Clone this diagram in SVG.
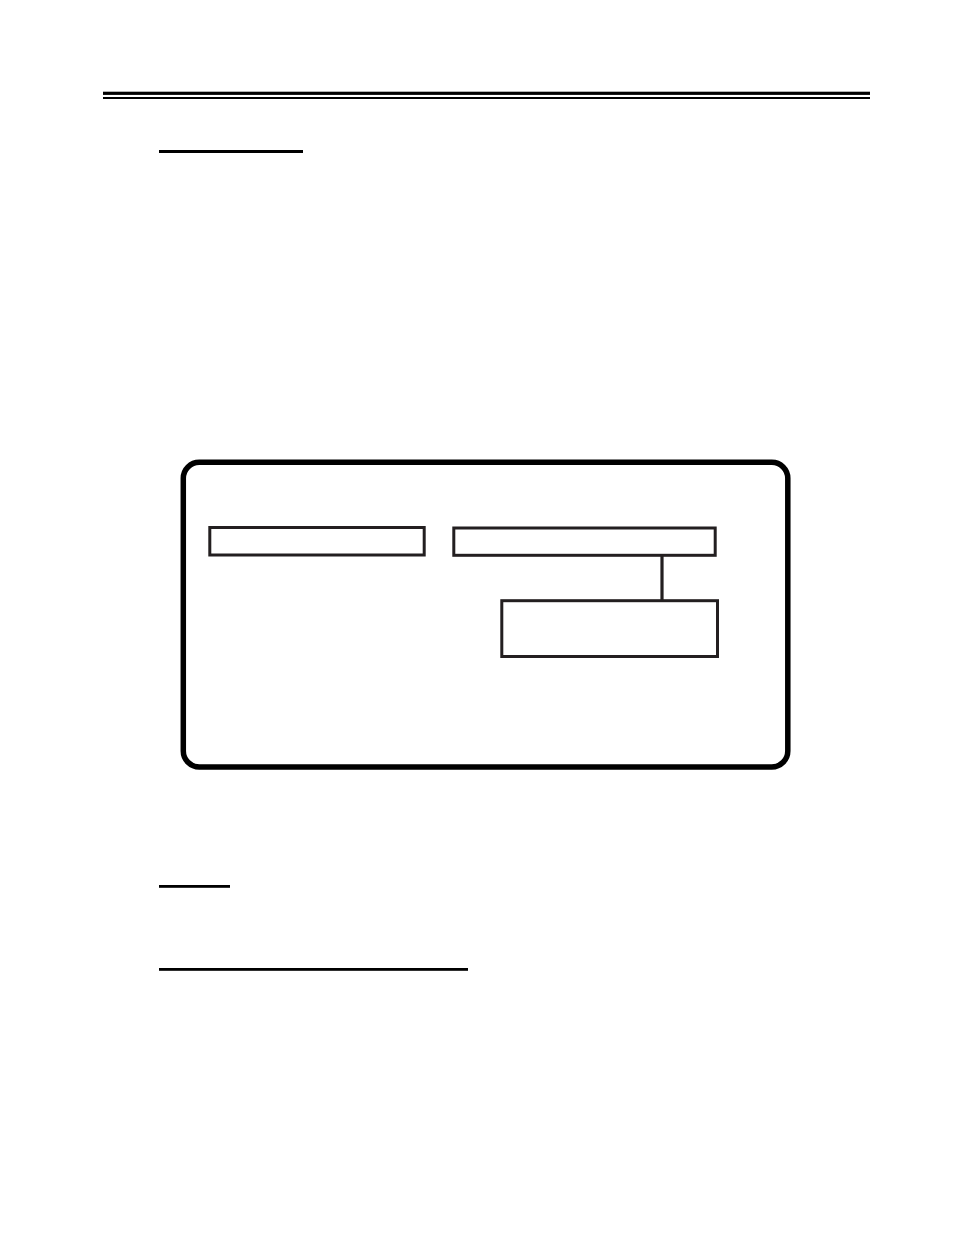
<svg xmlns="http://www.w3.org/2000/svg" width="954" height="1235" viewBox="0 0 954 1235">
<style>
.rule{fill:#000000}
.frame{fill:none;stroke:#000000;stroke-width:5.5}
.box{fill:#ffffff;stroke:#231f20;stroke-width:3}
.conn{stroke:#231f20;stroke-width:3.2;fill:none}
</style>
<rect width="954" height="1235" fill="#ffffff"/>
<g id="header-rules">
<rect class="rule" x="103" y="91.7" width="767" height="3.2"/>
<rect class="rule" x="103" y="97" width="767" height="2"/>
</g>
<g id="underlines">
<rect class="rule" x="159" y="150" width="144" height="3"/>
<rect class="rule" x="159" y="885" width="71" height="2.8"/>
<rect class="rule" x="159" y="968" width="309" height="2.8"/>
</g>
<g id="frame">
<rect class="frame" x="183.3" y="462.3" width="604.5" height="304.7" rx="16" ry="16"/>
</g>
<g id="connectors">
<line class="conn" x1="662" y1="555.3" x2="662" y2="600.7"/>
</g>
<g id="node-a">
<rect class="box" x="209.8" y="527.5" width="214.4" height="27.5"/>
</g>
<g id="node-b">
<rect class="box" x="453.8" y="528" width="261.4" height="27.3"/>
</g>
<g id="node-c">
<rect class="box" x="501.8" y="600.7" width="215.7" height="55.8"/>
</g>
</svg>
